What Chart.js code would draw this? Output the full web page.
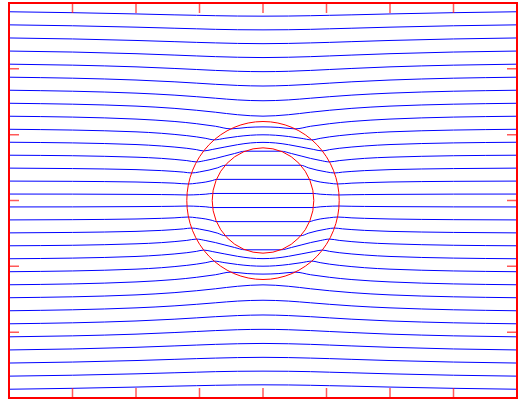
<!DOCTYPE html>
<html>
<head>
<meta charset="utf-8">
<script src="https://cdn.jsdelivr.net/npm/chart.js@4.4.1/dist/chart.umd.min.js"></script>
<style>
  html, body { margin: 0; padding: 0; background: #fff; }
  canvas { display: block; }
</style>
</head>
<body>
<canvas id="myChart" width="524" height="400"></canvas>
<script>
// x positions shared by the streamlines that stay outside the shell
const xCols = [-4, -3, -2, -1.4, -1.05, -0.75, -0.4, 0, 0.4, 0.75, 1.05, 1.4, 2, 3, 4];

// streamlines passing above / below the shell (y read at xCols)
const outerLinesY = [
  [2.867, 2.853, 2.834, 2.820, 2.813, 2.807, 2.802, 2.800, 2.802, 2.807, 2.813, 2.820, 2.834, 2.853, 2.867],
  [2.668, 2.654, 2.633, 2.617, 2.608, 2.600, 2.594, 2.592, 2.594, 2.600, 2.608, 2.617, 2.633, 2.654, 2.668],
  [2.469, 2.454, 2.431, 2.413, 2.402, 2.394, 2.386, 2.382, 2.386, 2.394, 2.402, 2.413, 2.431, 2.454, 2.469],
  [2.270, 2.255, 2.230, 2.209, 2.196, 2.185, 2.176, 2.171, 2.176, 2.185, 2.196, 2.209, 2.230, 2.255, 2.270],
  [2.071, 2.056, 2.030, 2.006, 1.990, 1.976, 1.963, 1.957, 1.963, 1.976, 1.990, 2.006, 2.030, 2.056, 2.071],
  [1.873, 1.858, 1.830, 1.803, 1.783, 1.765, 1.748, 1.739, 1.748, 1.765, 1.783, 1.803, 1.830, 1.858, 1.873],
  [1.675, 1.660, 1.631, 1.601, 1.577, 1.554, 1.528, 1.515, 1.528, 1.554, 1.577, 1.601, 1.631, 1.660, 1.675],
  [1.477, 1.463, 1.434, 1.400, 1.371, 1.341, 1.303, 1.281, 1.303, 1.341, 1.371, 1.400, 1.434, 1.463, 1.477],
  [-1.477, -1.463, -1.434, -1.400, -1.371, -1.341, -1.303, -1.281, -1.303, -1.341, -1.371, -1.400, -1.434, -1.463, -1.477],
  [-1.675, -1.660, -1.631, -1.601, -1.577, -1.554, -1.528, -1.515, -1.528, -1.554, -1.577, -1.601, -1.631, -1.660, -1.675],
  [-1.873, -1.858, -1.830, -1.803, -1.783, -1.765, -1.748, -1.739, -1.748, -1.765, -1.783, -1.803, -1.830, -1.858, -1.873],
  [-2.071, -2.056, -2.030, -2.006, -1.990, -1.976, -1.963, -1.957, -1.963, -1.976, -1.990, -2.006, -2.030, -2.056, -2.071],
  [-2.270, -2.255, -2.230, -2.209, -2.196, -2.185, -2.176, -2.171, -2.176, -2.185, -2.196, -2.209, -2.230, -2.255, -2.270],
  [-2.469, -2.454, -2.431, -2.413, -2.402, -2.394, -2.386, -2.382, -2.386, -2.394, -2.402, -2.413, -2.431, -2.454, -2.469],
  [-2.668, -2.654, -2.633, -2.617, -2.608, -2.600, -2.594, -2.592, -2.594, -2.600, -2.608, -2.617, -2.633, -2.654, -2.668],
  [-2.867, -2.853, -2.834, -2.820, -2.813, -2.807, -2.802, -2.800, -2.802, -2.807, -2.813, -2.820, -2.834, -2.853, -2.867]
];

// streamlines that bend inside the shell (ring between the circles)
const shellLines = [
  [[-4, 1.280], [-3, 1.267], [-2, 1.237], [-1.4, 1.201], [-1.05, 1.167], [-0.75, 1.128], [-0.506, 1.088], [-0.25, 1.110], [0, 1.118], [0.25, 1.110], [0.506, 1.088], [0.75, 1.128], [1.05, 1.167], [1.4, 1.201], [2, 1.237], [3, 1.267], [4, 1.280]],
  [[-4, 1.082], [-3, 1.070], [-2, 1.043], [-1.6, 1.021], [-1.2, 0.985], [-1.05, 0.967], [-0.9, 0.944], [-0.77, 0.921], [-0.6, 0.945], [-0.4, 0.972], [-0.2, 0.991], [0, 0.998], [0.2, 0.991], [0.4, 0.972], [0.6, 0.945], [0.77, 0.921], [0.9, 0.944], [1.05, 0.967], [1.2, 0.985], [1.6, 1.021], [2, 1.043], [3, 1.070], [4, 1.082]],
  [[-4, 0.885], [-3, 0.875], [-2, 0.850], [-1.6, 0.828], [-1.2, 0.793], [-1.05, 0.773], [-0.934, 0.753], [-0.8, 0.775], [-0.6, 0.812], [-0.4, 0.848], [-0.2, 0.874], [0, 0.883], [0.2, 0.874], [0.4, 0.848], [0.6, 0.812], [0.8, 0.775], [0.934, 0.753], [1.05, 0.773], [1.2, 0.793], [1.6, 0.828], [2, 0.850], [3, 0.875], [4, 0.885]],
  [[-4, -0.885], [-3, -0.875], [-2, -0.850], [-1.6, -0.828], [-1.2, -0.793], [-1.05, -0.773], [-0.934, -0.753], [-0.8, -0.775], [-0.6, -0.812], [-0.4, -0.848], [-0.2, -0.874], [0, -0.883], [0.2, -0.874], [0.4, -0.848], [0.6, -0.812], [0.8, -0.775], [0.934, -0.753], [1.05, -0.773], [1.2, -0.793], [1.6, -0.828], [2, -0.850], [3, -0.875], [4, -0.885]],
  [[-4, -1.082], [-3, -1.070], [-2, -1.043], [-1.6, -1.021], [-1.2, -0.985], [-1.05, -0.967], [-0.9, -0.944], [-0.77, -0.921], [-0.6, -0.945], [-0.4, -0.972], [-0.2, -0.991], [0, -0.998], [0.2, -0.991], [0.4, -0.972], [0.6, -0.945], [0.77, -0.921], [0.9, -0.944], [1.05, -0.967], [1.2, -0.985], [1.6, -1.021], [2, -1.043], [3, -1.070], [4, -1.082]],
  [[-4, -1.280], [-3, -1.267], [-2, -1.237], [-1.4, -1.201], [-1.05, -1.167], [-0.75, -1.128], [-0.506, -1.088], [-0.25, -1.110], [0, -1.118], [0.25, -1.110], [0.506, -1.088], [0.75, -1.128], [1.05, -1.167], [1.4, -1.201], [2, -1.237], [3, -1.267], [4, -1.280]]
];

// streamlines that cross the inner circle (flat inside it)
const coreLines = [
  [[-4, 0.688], [-3, 0.680], [-2, 0.658], [-1.6, 0.640], [-1.2, 0.606], [-1.047, 0.586], [-0.9, 0.609], [-0.75, 0.639], [-0.6, 0.676], [-0.45, 0.713], [-0.282, 0.749], [0, 0.749], [0.282, 0.749], [0.45, 0.713], [0.6, 0.676], [0.75, 0.639], [0.9, 0.609], [1.047, 0.586], [1.2, 0.606], [1.6, 0.640], [2, 0.658], [3, 0.680], [4, 0.688]],
  [[-4, 0.492], [-3, 0.485], [-2, 0.469], [-1.6, 0.454], [-1.4, 0.442], [-1.25, 0.431], [-1.125, 0.418], [-1.0, 0.434], [-0.85, 0.462], [-0.72, 0.495], [-0.595, 0.535], [0, 0.535], [0.595, 0.535], [0.72, 0.495], [0.85, 0.462], [1.0, 0.434], [1.125, 0.418], [1.25, 0.431], [1.4, 0.442], [1.6, 0.454], [2, 0.469], [3, 0.485], [4, 0.492]],
  [[-4, 0.295], [-3, 0.291], [-2, 0.281], [-1.6, 0.271], [-1.4, 0.264], [-1.173, 0.251], [-1.05, 0.262], [-0.9, 0.281], [-0.8, 0.302], [-0.733, 0.321], [0, 0.321], [0.733, 0.321], [0.8, 0.302], [0.9, 0.281], [1.05, 0.262], [1.173, 0.251], [1.4, 0.264], [1.6, 0.271], [2, 0.281], [3, 0.291], [4, 0.295]],
  [[-4, 0.098], [-3, 0.097], [-2, 0.093], [-1.6, 0.090], [-1.4, 0.088], [-1.197, 0.084], [-1.0, 0.090], [-0.9, 0.096], [-0.793, 0.107], [0, 0.107], [0.793, 0.107], [0.9, 0.096], [1.0, 0.090], [1.197, 0.084], [1.4, 0.088], [1.6, 0.090], [2, 0.093], [3, 0.097], [4, 0.098]],
  [[-4, -0.098], [-3, -0.097], [-2, -0.093], [-1.6, -0.090], [-1.4, -0.088], [-1.197, -0.084], [-1.0, -0.090], [-0.9, -0.096], [-0.793, -0.107], [0, -0.107], [0.793, -0.107], [0.9, -0.096], [1.0, -0.090], [1.197, -0.084], [1.4, -0.088], [1.6, -0.090], [2, -0.093], [3, -0.097], [4, -0.098]],
  [[-4, -0.295], [-3, -0.291], [-2, -0.281], [-1.6, -0.271], [-1.4, -0.264], [-1.173, -0.251], [-1.05, -0.262], [-0.9, -0.281], [-0.8, -0.302], [-0.733, -0.321], [0, -0.321], [0.733, -0.321], [0.8, -0.302], [0.9, -0.281], [1.05, -0.262], [1.173, -0.251], [1.4, -0.264], [1.6, -0.271], [2, -0.281], [3, -0.291], [4, -0.295]],
  [[-4, -0.492], [-3, -0.485], [-2, -0.469], [-1.6, -0.454], [-1.4, -0.442], [-1.25, -0.431], [-1.125, -0.418], [-1.0, -0.434], [-0.85, -0.462], [-0.72, -0.495], [-0.595, -0.535], [0, -0.535], [0.595, -0.535], [0.72, -0.495], [0.85, -0.462], [1.0, -0.434], [1.125, -0.418], [1.25, -0.431], [1.4, -0.442], [1.6, -0.454], [2, -0.469], [3, -0.485], [4, -0.492]],
  [[-4, -0.688], [-3, -0.680], [-2, -0.658], [-1.6, -0.640], [-1.2, -0.606], [-1.047, -0.586], [-0.9, -0.609], [-0.75, -0.639], [-0.6, -0.676], [-0.45, -0.713], [-0.282, -0.749], [0, -0.749], [0.282, -0.749], [0.45, -0.713], [0.6, -0.676], [0.75, -0.639], [0.9, -0.609], [1.047, -0.586], [1.2, -0.606], [1.6, -0.640], [2, -0.658], [3, -0.680], [4, -0.688]]
];

const ringRadii = [0.8, 1.2];
const xTicks = [-3, -2, -1, 0, 1, 2, 3];
const yTicks = [-2, -1, 0, 1, 2];

const lineStyle = {
  borderColor: '#0000ff',
  borderWidth: 1,
  pointRadius: 0,
  fill: false,
  cubicInterpolationMode: 'monotone'
};

const datasets = [];
outerLinesY.forEach(row => {
  datasets.push({ ...lineStyle, data: row.map((v, i) => ({ x: xCols[i], y: v })) });
});
shellLines.concat(coreLines).forEach(pts => {
  datasets.push({ ...lineStyle, data: pts.map(p => ({ x: p[0], y: p[1] })) });
});

// red rings, inward ticks and box frame
const framePlugin = {
  id: 'framePlugin',
  afterDatasetsDraw(chart) {
    const { ctx, chartArea: a, scales: { x, y } } = chart;
    ctx.save();
    const cx = x.getPixelForValue(0);
    const cy = y.getPixelForValue(0);
    ctx.strokeStyle = '#ff0000';
    ctx.lineWidth = 1;
    ringRadii.forEach(r => {
      ctx.beginPath();
      ctx.ellipse(cx, cy, x.getPixelForValue(r) - cx, cy - y.getPixelForValue(r), 0, 0, Math.PI * 2);
      ctx.stroke();
    });

    const len = 10;
    ctx.strokeStyle = 'rgba(255,0,0,0.65)';
    ctx.lineWidth = 1.5;
    ctx.beginPath();
    xTicks.forEach(t => {
      const px = x.getPixelForValue(t);
      ctx.moveTo(px, a.top); ctx.lineTo(px, a.top + len);
      ctx.moveTo(px, a.bottom); ctx.lineTo(px, a.bottom - len);
    });
    yTicks.forEach(t => {
      const py = y.getPixelForValue(t);
      ctx.moveTo(a.left, py); ctx.lineTo(a.left + len, py);
      ctx.moveTo(a.right, py); ctx.lineTo(a.right - len, py);
    });
    ctx.stroke();

    ctx.strokeStyle = '#ff0000';
    ctx.lineWidth = 2;
    ctx.strokeRect(a.left, a.top, a.right - a.left, a.bottom - a.top);
    ctx.restore();
  }
};

const ctx = document.getElementById('myChart');

new Chart(ctx, {
  type: 'line',
  data: { datasets: datasets },
  options: {
    responsive: false,
    animation: false,
    devicePixelRatio: 1,
    layout: { padding: { left: 9, right: 7, top: 3, bottom: 2 } },
    plugins: { legend: { display: false }, tooltip: { enabled: false } },
    scales: {
      x: { type: 'linear', min: -4, max: 4, display: false },
      y: { type: 'linear', min: -3, max: 3, display: false }
    }
  },
  plugins: [framePlugin]
});
</script>
</body>
</html>
